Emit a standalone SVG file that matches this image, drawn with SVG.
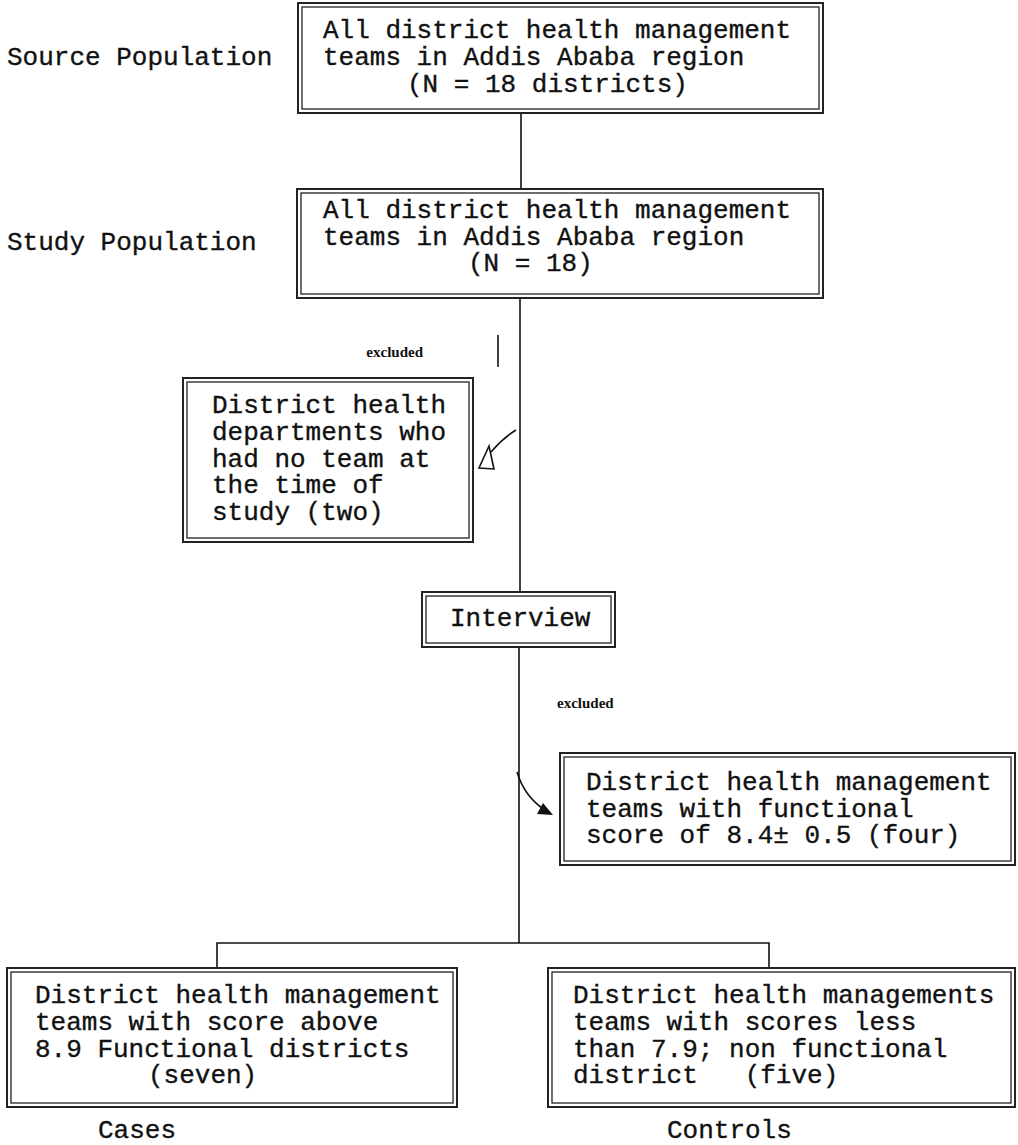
<svg xmlns="http://www.w3.org/2000/svg" width="1018" height="1145" viewBox="0 0 1018 1145">
<style>
  .t { font-family: "Liberation Mono", "Courier New", monospace; font-size: 26px; fill: #111; stroke: #111; stroke-width: 0.35; white-space: pre; }
  .s { font-family: "Liberation Serif", "Times New Roman", serif; font-size: 15px; font-weight: bold; fill: #111; }
  .o { fill: #fff; stroke: #222; stroke-width: 2; }
  .i { fill: none; stroke: #222; stroke-width: 1.3; }
  .c { fill: none; stroke: #111; stroke-width: 1.6; }
</style>
<rect width="1018" height="1145" fill="#fff"/>

<g id="connectors">
  <line class="c" x1="521" y1="113" x2="521" y2="189"/>
  <line class="c" x1="520" y1="298" x2="520" y2="592"/>
  <line class="c" x1="498" y1="335" x2="498" y2="367"/>
  <line class="c" x1="519" y1="647" x2="519" y2="943"/>
  <polyline class="c" points="217,968 217,943 769,943 769,968"/>
  <path class="c" d="M 516 430 Q 503 438 491 452"/>
  <polygon points="489,446 479,468 494,469" fill="none" stroke="#111" stroke-width="1.6"/>
  <path class="c" d="M 517 772 Q 524 795 542 808"/>
  <polygon points="537,814 553,815 543,803" fill="#111"/>
</g>

<g id="label-source"><text class="t" x="7" y="65">Source Population</text></g>
<g id="label-study"><text class="t" x="7" y="250">Study Population</text></g>
<g id="label-excluded-1"><text class="s" x="423" y="357" text-anchor="end">excluded</text></g>
<g id="label-excluded-2"><text class="s" x="557" y="708">excluded</text></g>
<g id="label-cases"><text class="t" x="98" y="1138">Cases</text></g>
<g id="label-controls"><text class="t" x="667" y="1138">Controls</text></g>

<g id="node-source">
  <rect class="o" x="298" y="3" width="525" height="110"/>
  <rect class="i" x="302" y="7" width="517" height="102"/>
  <text class="t" x="323" y="38">All district health management</text>
  <text class="t" x="323" y="65">teams in Addis Ababa region</text>
  <text class="t" x="407" y="92">(N = 18 districts)</text>
</g>

<g id="node-study">
  <rect class="o" x="297" y="189" width="526" height="109"/>
  <rect class="i" x="301" y="193" width="518" height="101"/>
  <text class="t" x="323" y="218">All district health management</text>
  <text class="t" x="323" y="245">teams in Addis Ababa region</text>
  <text class="t" x="468" y="271">(N = 18)</text>
</g>

<g id="node-excluded-noteam">
  <rect class="o" x="183" y="378" width="290" height="164"/>
  <rect class="i" x="187" y="382" width="282" height="156"/>
  <text class="t" x="212" y="413">District health</text>
  <text class="t" x="212" y="440">departments who</text>
  <text class="t" x="212" y="467">had no team at</text>
  <text class="t" x="212" y="493">the time of</text>
  <text class="t" x="212" y="520">study (two)</text>
</g>

<g id="node-interview">
  <rect class="o" x="422" y="592" width="193" height="55"/>
  <rect class="i" x="426" y="596" width="185" height="47"/>
  <text class="t" x="450" y="626">Interview</text>
</g>

<g id="node-excluded-score">
  <rect class="o" x="560" y="753" width="455" height="112"/>
  <rect class="i" x="564" y="757" width="447" height="104"/>
  <text class="t" x="586" y="790">District health management</text>
  <text class="t" x="586" y="817">teams with functional</text>
  <text class="t" x="586" y="843">score of 8.4± 0.5 (four)</text>
</g>

<g id="node-cases">
  <rect class="o" x="7" y="968" width="450" height="139"/>
  <rect class="i" x="11" y="972" width="442" height="131"/>
  <text class="t" x="35" y="1003">District health management</text>
  <text class="t" x="35" y="1030">teams with score above</text>
  <text class="t" x="35" y="1057">8.9 Functional districts</text>
  <text class="t" x="148" y="1083">(seven)</text>
</g>

<g id="node-controls">
  <rect class="o" x="548" y="968" width="467" height="139"/>
  <rect class="i" x="552" y="972" width="459" height="131"/>
  <text class="t" x="573" y="1003">District health managements</text>
  <text class="t" x="573" y="1030">teams with scores less</text>
  <text class="t" x="573" y="1057">than 7.9; non functional</text>
  <text class="t" x="573" y="1083">district   (five)</text>
</g>
</svg>
